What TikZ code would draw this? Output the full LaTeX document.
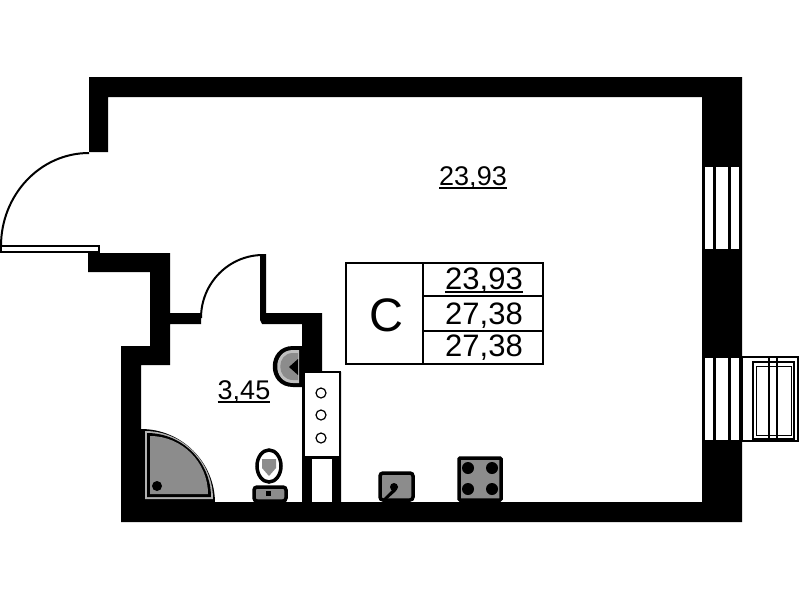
\documentclass[tikz,border=0pt]{standalone}
\usepackage{fontspec}
\setmainfont{Liberation Sans}
\newcommand{\ulnum}[1]{\setbox0\hbox{#1}\rlap{\rule[-3pt]{\wd0}{1.5pt}}\box0}
\tikzset{
  wall/.style={fill=black},
  gap/.style={fill=white},
  fixture/.style={fill=black!45,draw=black,line width=3.5pt,rounded corners=3pt},
  area/.style={inner sep=0pt,font=\fontsize{27}{27}\selectfont},
  cell/.style={inner sep=0pt,font=\fontsize{31}{31}\selectfont}
}
\begin{document}
\begin{tikzpicture}[x=1pt,y=-1pt]
  \useasboundingbox (0,0) rectangle (799,600);
  \fill[wall] (89,77) -- (742,77) -- (742,522) -- (121,522) -- (121,346) -- (150,346)
    -- (150,272) -- (88,272) -- (88,253) -- (170,253) -- (170,313) -- (201,313)
    -- (201,324) -- (170,324) -- (170,365) -- (141,365) -- (141,502) -- (302,502)
    -- (302,372) -- (341,372) -- (341,502) -- (702,502) -- (702,97) -- (108,97)
    -- (108,152) -- (89,152) -- cycle;
  \fill[wall] (260,254) -- (266,254) -- (266,313) -- (322,313) -- (322,372)
    -- (302,372) -- (302,324) -- (262,324) -- (260,320) -- cycle;
  \draw[fill=white,line width=1.5pt] (304,372) rectangle (340,457);
  \fill[gap] (312,459) rectangle (332,502);
  \foreach \y in {393,415,438}
    \draw[line width=1.2pt] (321,\y) circle (5);
  % entrance door
  \draw[fill=white,line width=1.5pt] (1,246) rectangle (99,252);
  \draw[line width=2pt] (1,246) .. controls (1,195) and (40,153) .. (89,153);
  \draw[line width=2pt] (201,318) .. controls (201,283) and (229,255) .. (263,255);
  % windows
  \foreach \y in {167,358} {
    \foreach \x/\w in {705/8,716/12,731/8}
      \fill[gap] (\x,\y) rectangle ++(\w,82);
  }
  \fill[gap] (742,358) rectangle (748,440);
  \draw[line width=1.2pt] (742,357) rectangle (798,441);
  \draw[line width=2pt] (753,362) rectangle (794,439);
  \draw[line width=1pt] (756,366) rectangle (791,435);
  \draw[line width=2.5pt] (769,357) -- (769,441) (777,357) -- (777,441);
  % shower
  \foreach \d/\r/\c in {0/74/black,4/68/black!30,6/64/black,9/58/black!45}
    \fill[\c] ({141+\d},{503-\d}) -- ({141+\d+\r},{503-\d})
      .. controls ({141+\d+\r},{503-\d-.55*\r}) and ({141+\d+.55*\r},{503-\d-\r})
      .. ({141+\d},{503-\d-\r}) -- cycle;
  \fill[black] (157,486) circle (5);
  % basin
  \fill[black] (302,346) -- (293,346) .. controls (266,346) and (266,387) .. (293,387) -- (302,387) -- cycle;
  \fill[black!25] (299,350) -- (293,350) .. controls (272,350) and (272,383) .. (293,383) -- (299,383) -- cycle;
  \fill[black!45] (298,353) -- (293,353) .. controls (276,353) and (276,380) .. (293,380) -- (298,380) -- cycle;
  \fill[black] (289,367) -- (298,359) -- (298,375) -- cycle;
  % toilet
  \draw[fill=white,line width=3.5pt] (269,466) ellipse (12 and 16);
  \fill[black!45] (262,459) -- (276,459) -- (276,468) -- (269,476) -- (262,468) -- cycle;
  \draw[fixture] (254,487) rectangle (286,501);
  \fill[black] (266,491) rectangle (271,496);
  % kitchen
  \draw[fixture] (380,473) rectangle (413,500);
  \fill[black] (382,500) -- (394,488) -- (398,486) -- (396,491) -- (386,500) -- cycle;
  \fill[black] (394,487) circle (4);
  \draw[fixture,rounded corners=1pt] (459,458) rectangle (501,500);
  \foreach \x in {468,492}
    \foreach \y in {468,489}
      \fill[black] (\x,\y) circle (6);
  % table
  \draw[line width=2pt] (346,263) rectangle (543,364);
  \draw[line width=2.5pt] (423,263) -- (423,364) (423,296) -- (543,296) (423,331) -- (543,331);
  \node[inner sep=0pt,font=\fontsize{47}{47}\selectfont] (cls) at (386,315) {C};
  \node[cell] (total) at (484,281) {\ulnum{23,93}};
  \node[cell] (full) at (484,316) {27,38};
  \node[cell] (sum) at (484,348) {27,38};
  \node[area] (room) at (473,178) {\ulnum{23,93}};
  \node[area] (bath) at (244,392) {\ulnum{3,45}};
\end{tikzpicture}
\end{document}
